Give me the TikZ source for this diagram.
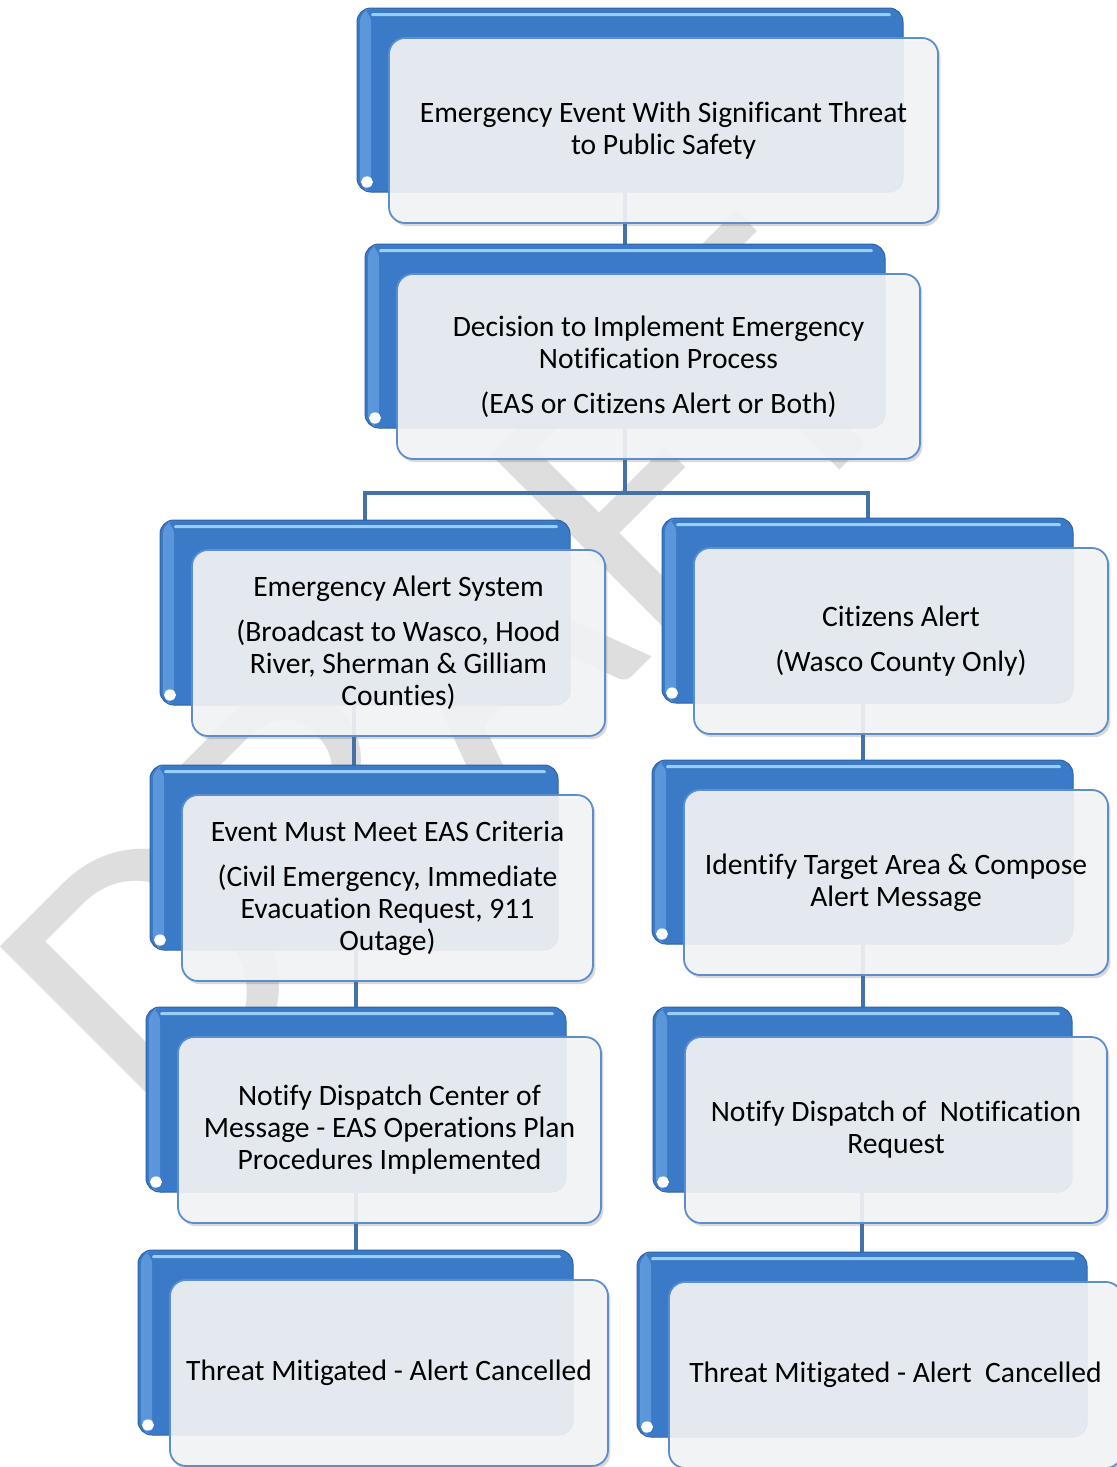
\documentclass[tikz,border=0pt]{standalone}
\usepackage{fontspec}
\setmainfont{Carlito}[Ligatures=NoCommon]
\usetikzlibrary{shadows,calc}
\definecolor{bluemain}{HTML}{3B7AC7}
\definecolor{bluedark}{HTML}{2F63A6}
\definecolor{bluelight}{HTML}{5C96DB}
\definecolor{bluehi}{HTML}{9ACDF8}
\definecolor{frontfill}{HTML}{F5F6F7}
\definecolor{frontedge}{HTML}{5B8DCF}
\definecolor{connector}{HTML}{4472A8}
\definecolor{wmgrey}{HTML}{DEDEDE}
\pgfdeclarelayer{wm}
\pgfdeclarelayer{bg}
\pgfsetlayers{wm,bg,main}
\tikzset{
 backbox/.style={draw=bluedark, line width=0.5pt, fill=bluemain, rounded corners=7pt, inner sep=0pt,
   path picture={
     \fill[left color=bluelight, right color=bluemain] ([xshift=1.5pt]path picture bounding box.north west) rectangle ([xshift=7pt]path picture bounding box.south west);
     \fill[bluehi, rounded corners=0.7pt] ([xshift=7pt,yshift=-2.6pt]path picture bounding box.north west) rectangle ([xshift=-6pt,yshift=-4.1pt]path picture bounding box.north east);
     \fill[white] ([xshift=5pt,yshift=5pt]path picture bounding box.south west) ellipse [x radius=3pt, y radius=2.8pt];
   }},
 frontbox/.style={draw=frontedge, line width=0.9pt, fill=frontfill, fill opacity=0.9, text opacity=1,
   rounded corners=8pt, align=center, inner sep=0pt, font=\fontsize{14.8}{16}\selectfont,
   drop shadow={shadow xshift=1.2pt, shadow yshift=-1.6pt, opacity=0.25, fill=black!60}},
 link/.style={draw=connector, line width=2pt},
 watermark/.style={text=wmgrey, font=\fontsize{200}{200}\selectfont, rotate=45, inner sep=0pt},
}
% name, back x1, y1, x2, y2, text   (pixel units)
\newcommand\flowbox[6]{%
  \node[backbox, minimum width={(#4-#2)*0.5pt}, minimum height={(#5-#3)*0.5pt}]
    (#1back) at ({(#2+#4)/2},{(#3+#5)/2}) {};
  \node[frontbox, minimum width={(#4-#2+3)*0.5pt}, minimum height={(#5-#3+1)*0.5pt}]
    (#1) at ({(#2+#4)/2+33.5},{(#3+#5)/2+30.5}) {#6};
}
\begin{document}
\begin{tikzpicture}[x=0.5pt,y=-0.5pt]
\useasboundingbox (0,0) rectangle (1117,1467);
\begin{pgfonlayer}{wm}
  \node[watermark] (wm) at (451,677) {DRAFT};
\end{pgfonlayer}

\flowbox{top}{357}{8}{903}{192}{Emergency Event With Significant Threat\\to Public Safety}
\flowbox{dec}{365}{244}{885}{428}{Decision to Implement Emergency\\Notification Process\\[6.5pt](EAS or Citizens Alert or Both)}
\flowbox{eas}{160}{520}{570}{705}{Emergency Alert System\\[6.5pt](Broadcast to Wasco, Hood\\River, Sherman \& Gilliam\\Counties)}
\flowbox{cit}{662}{518}{1073}{703}{Citizens Alert\\[6.5pt](Wasco County Only)}
\flowbox{crit}{150}{765}{558}{950}{Event Must Meet EAS Criteria\\[6.5pt](Civil Emergency, Immediate\\Evacuation Request, 911\\Outage)}
\flowbox{ident}{652}{760}{1073}{944}{Identify Target Area \& Compose\\Alert Message}
\flowbox{ndc}{146}{1007}{566}{1192}{Notify Dispatch Center of\\Message - EAS Operations Plan\\Procedures Implemented}
\flowbox{ndr}{653}{1007}{1072}{1192}{Notify Dispatch of~ Notification\\Request}
\flowbox{tml}{138}{1250}{573}{1435}{Threat Mitigated - Alert Cancelled}
\flowbox{tmr}{637}{1252}{1087}{1437}{Threat Mitigated - Alert~ Cancelled}

\begin{pgfonlayer}{bg}
  \draw[link] (decback.north |- topback.south) -- (decback.north);
  \coordinate (split) at ($(decback.north |- dec.south)+(0,33)$);
  \draw[link] (decback.north |- decback.south) -- (split);
  \draw[link] (split) -| (easback.north);
  \draw[link] (split) -| (citback.north);
  \draw[link] (critback.north |- easback.south) -- (critback.north);
  \draw[link] (identback.north |- citback.south) -- (identback.north);
  \draw[link] (ndcback.north |- critback.south) -- (ndcback.north);
  \draw[link] (ndrback.north |- identback.south) -- (ndrback.north);
  \draw[link] (tmlback.north |- ndcback.south) -- (tmlback.north);
  \draw[link] (tmrback.north |- ndrback.south) -- (tmrback.north);
\end{pgfonlayer}
\end{tikzpicture}
\end{document}
